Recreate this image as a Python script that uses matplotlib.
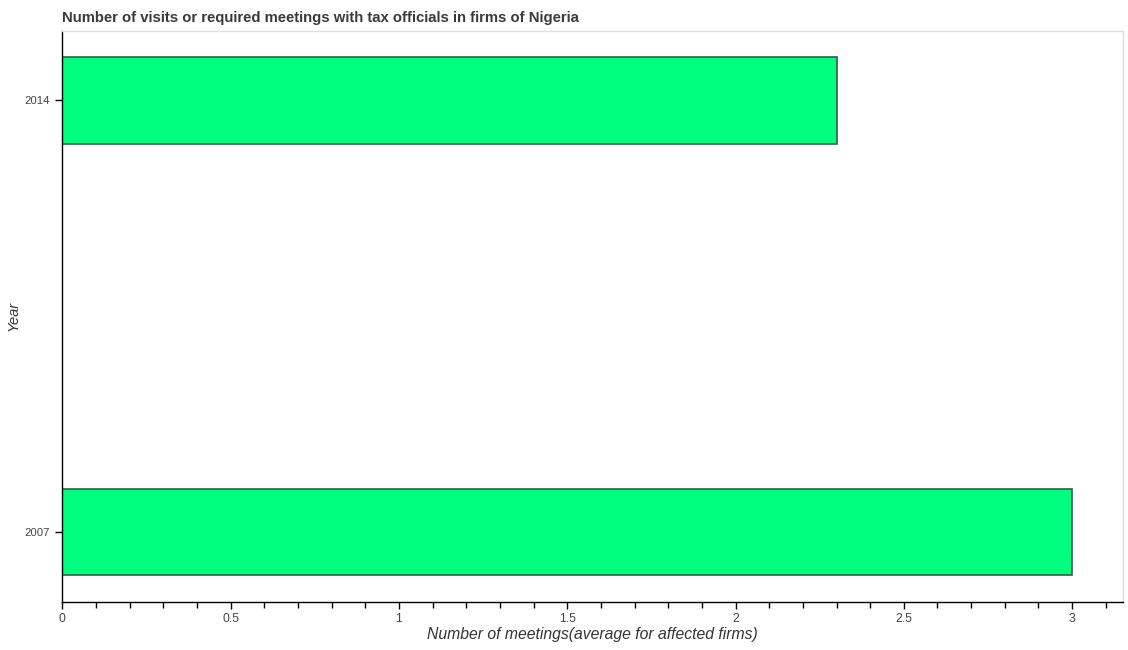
import matplotlib
matplotlib.use("Agg")
import matplotlib.pyplot as plt
from matplotlib.ticker import MultipleLocator

years = ["2007", "2014"]
meetings = [3.0, 2.3]
xticks = [0, 0.5, 1, 1.5, 2, 2.5, 3]
xtick_labels = ["0", "0.5", "1", "1.5", "2", "2.5", "3"]

plt.rcParams['font.family'] = ['Liberation Sans', 'DejaVu Sans']

fig = plt.figure(figsize=(11.28, 6.5), dpi=100)
ax_w = (1123.3 - 62.3) / 1128
ax_h = (602 - 30.5) / 650
ax = fig.add_axes([62.3/1128, 48/650, ax_w, ax_h])

pos = list(range(len(years)))
ax.barh(pos, meetings, height=0.2, color="#00ff7f", edgecolor="#3a5a48", linewidth=1.2)

ax.set_xlim(0, 3.152)
ax.set_ylim(-0.162, 1.162)
ax.set_xticks(xticks)
ax.set_xticklabels(xtick_labels)
ax.xaxis.set_minor_locator(MultipleLocator(0.1))
ax.set_yticks(pos)
ax.set_yticklabels(years)

ax.tick_params(axis='both', which='major', direction='out', length=5, width=1,
               labelcolor="#444444", color="black")
ax.tick_params(axis='x', which='major', labelsize=8.8, pad=3)
ax.tick_params(axis='y', which='major', labelsize=8.2, pad=4)
ax.tick_params(axis='x', which='minor', direction='out', length=4, width=1, color="black")

for s in ['left', 'bottom']:
    ax.spines[s].set_color('black')
    ax.spines[s].set_linewidth(1)
for s in ['top', 'right']:
    ax.spines[s].set_color('#e0e0e0')
    ax.spines[s].set_linewidth(1)

ax.set_xlabel("Number of meetings(average for affected firms)", fontsize=11.3,
              style='italic', color="#333333", va='center')
ax.xaxis.set_label_coords(0.5, (602 - 635) / (602 - 30.5))
ax.set_ylabel("Year", fontsize=10.5, style='italic', color="#333333", va='center')
ax.yaxis.set_label_coords((13 - 62.3) / (1123.3 - 62.3), 0.5)

fig.text(62/1128, 1 - 17.7/650,
         "Number of visits or required meetings with tax officials in firms of Nigeria",
         fontsize=10.7, fontweight='bold', color="#3a3a3a", ha='left', va='center')

fig.savefig("out.png", dpi=100, facecolor="white")
